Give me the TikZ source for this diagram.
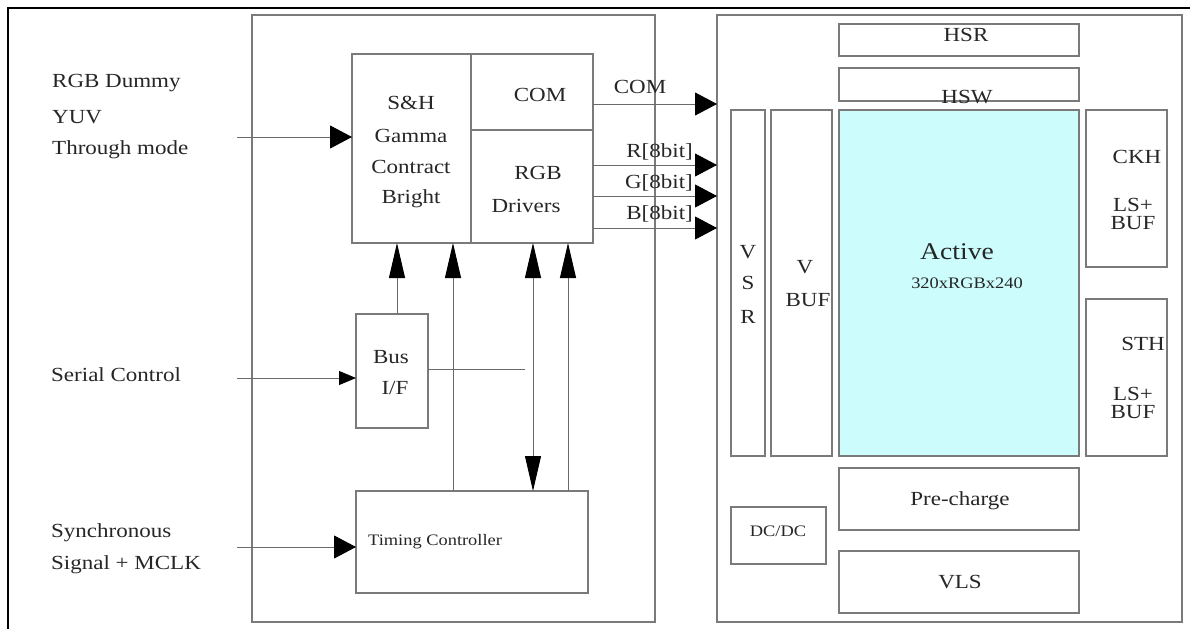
\documentclass[tikz,border=0pt]{standalone}
\usepackage{fontspec}
\setmainfont{Liberation Serif}[FakeStretch=1.15]
\usetikzlibrary{arrows.meta}
\definecolor{boxgray}{HTML}{7A7A7A}
\definecolor{linegray}{HTML}{6A6A6A}
\definecolor{txt}{HTML}{262626}
\definecolor{activecyan}{HTML}{CCFCFC}
\tikzset{
  blk/.style={draw=boxgray, line width=1.3pt, inner sep=0pt, outer sep=0pt},
  lbl/.style={text=txt, inner sep=0pt, font=\fontsize{20}{22}\selectfont},
  tight/.style={text=txt, inner sep=0pt, align=center, font=\fontsize{20}{18}\selectfont},
  small/.style={text=txt, inner sep=0pt, font=\fontsize{16}{18}\selectfont},
  conn/.style={draw=linegray, line width=0.9pt},
  harrow/.style={conn, -{Triangle[length=22pt,width=23pt,color=black]}},
  sarrow/.style={conn, -{Triangle[length=17pt,width=14pt,color=black]}},
  varrow/.style={conn, -{Triangle[length=35pt,width=16pt,color=black]}},
  dvarrow/.style={conn, {Triangle[length=35pt,width=16pt,color=black]}-{Triangle[length=35pt,width=16pt,color=black]}},
}
\begin{document}
\begin{tikzpicture}[x=1pt,y=-1pt]
\useasboundingbox (0,0) rectangle (1192,629);
% outer partial frame
\draw[black, line width=1.8pt] (8,629) -- (8,8) -- (1190,8);
% frames
\node[blk, minimum width=403pt, minimum height=607pt] (leftframe) at (453.5,318.5) {};
\node[blk, minimum width=465pt, minimum height=607pt] (rightframe) at (949.5,318.5) {};
% left blocks
\node[blk, minimum width=119pt, minimum height=189pt] (sh) at (411.5,148.5) {};
\node[blk, minimum width=122pt, minimum height=76pt] (com) at (532,92) {};
\node[blk, minimum width=122pt, minimum height=113pt] (rgb) at (532,186.5) {};
\node[blk, minimum width=72pt, minimum height=114pt] (bus) at (392,371) {};
\node[blk, minimum width=232pt, minimum height=102pt] (tc) at (472,542) {};
% right blocks
\node[blk, minimum width=240pt, minimum height=32pt] (hsr) at (959,40) {};
\node[blk, minimum width=240pt, minimum height=33pt] (hsw) at (959,84.5) {};
\node[blk, fill=activecyan, minimum width=240pt, minimum height=346pt] (active) at (959,283) {};
\node[blk, minimum width=34pt, minimum height=346pt] (vsr) at (748,283) {};
\node[blk, minimum width=61pt, minimum height=346pt] (vbuf) at (801.5,283) {};
\node[blk, minimum width=81pt, minimum height=157pt] (ckh) at (1126.5,188.5) {};
\node[blk, minimum width=81pt, minimum height=157pt] (sth) at (1126.5,377.5) {};
\node[blk, minimum width=240pt, minimum height=62pt] (pre) at (959,499) {};
\node[blk, minimum width=240pt, minimum height=62pt] (vls) at (959,582) {};
\node[blk, minimum width=95pt, minimum height=57pt] (dcdc) at (778.5,535.5) {};
% input labels
\node[lbl, anchor=west] (t1) at (52,83) {RGB Dummy};
\node[lbl, anchor=west] (t2) at (52,117) {YUV};
\node[lbl, anchor=west] (t3) at (52,150) {Through mode};
\node[lbl, anchor=west] (t4) at (51,375) {Serial Control};
\node[lbl, anchor=west] (t5) at (51,533) {Synchronous};
\node[lbl, anchor=west] (t6) at (51,565) {Signal + MCLK};
% block labels (left)
\node[lbl] (shl1) at (411,103) {S\&H};
\node[lbl] (shl2) at (411,136) {Gamma};
\node[lbl] (shl3) at (411,167) {Contract};
\node[lbl] (shl4) at (411,199) {Bright};
\node[lbl] (coml) at (540,95) {COM};
\node[lbl] (rgbl1) at (538,173) {RGB};
\node[lbl] (rgbl2) at (526,206) {Drivers};
\node[lbl] (busl1) at (391,357) {Bus};
\node[lbl] (busl2) at (395,388) {I/F};
\node[small, anchor=west] (tcl) at (368,542) {Timing Controller};
% signal labels
\node[lbl] (comsig) at (640,87) {COM};
\node[lbl, anchor=east] (rsig) at (693,152) {R[8bit]};
\node[lbl, anchor=east] (gsig) at (693,183) {G[8bit]};
\node[lbl, anchor=east] (bsig) at (693,214) {B[8bit]};
% block labels (right)
\node[lbl] (hsrl) at (966,35) {HSR};
\node[lbl] (hswl) at (967,97) {HSW};
\node[text=txt, inner sep=0pt, font=\fontsize{24}{26}\selectfont] (actl) at (957,252) {Active};
\node[small] (actl2) at (967,283) {320xRGBx240};
\node[lbl] (vsr1) at (748,252) {V};
\node[lbl] (vsr2) at (748,283) {S};
\node[lbl] (vsr3) at (748,317) {R};
\node[lbl] (vb1) at (805,267) {V};
\node[lbl] (vb2) at (808,300) {BUF};
\node[lbl] (ck1) at (1137,157) {CKH};
\node[tight] (ck2) at (1133,214) {LS+\\BUF};
\node[lbl] (st1) at (1143,344) {STH};
\node[tight] (st2) at (1133,403) {LS+\\BUF};
\node[lbl] (prel) at (960,501) {Pre-charge};
\node[lbl] (vlsl) at (960,582) {VLS};
\node[small] (dcl) at (778,531) {DC/DC};
% input connectors
\coordinate (in1) at (237,137);
\coordinate (in2) at (237,378);
\coordinate (in3) at (237,547);
\draw[harrow] (in1) -- (in1 -| sh.west);
\draw[sarrow] (in2) -- (in2 -| bus.west);
\draw[harrow] (in3) -- (in3 -| tc.west);
% output connectors
\draw[harrow] (com.east |- 0,104) -- (rightframe.west |- 0,104);
\draw[harrow] (rgb.east |- 0,165) -- (rightframe.west |- 0,165);
\draw[harrow] (rgb.east |- 0,196) -- (rightframe.west |- 0,196);
\draw[harrow] (rgb.east |- 0,228) -- (rightframe.west |- 0,228);
% vertical connectors
\draw[varrow] (397,0 |- bus.north) -- (397,0 |- sh.south);
\draw[varrow] (453,0 |- tc.north) -- (453,0 |- sh.south);
\draw[dvarrow] (533,0 |- tc.north) -- (533,0 |- rgb.south);
\draw[varrow] (568,0 |- tc.north) -- (568,0 |- rgb.south);
\coordinate (busend) at (525,369);
\draw[conn] (bus.east |- busend) -- (busend);
\end{tikzpicture}
\end{document}
